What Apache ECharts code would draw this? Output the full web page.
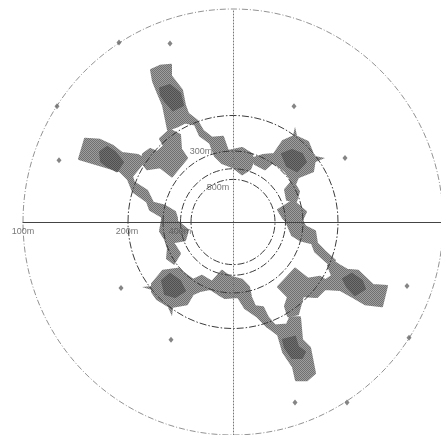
<!DOCTYPE html>
<html><head><meta charset="utf-8">
<style>html,body{margin:0;padding:0;background:#fff}#c{width:441px;height:435px;filter:blur(0.55px)}</style>
<script src="https://cdn.jsdelivr.net/npm/echarts@6/dist/echarts.min.js"></script>
</head><body><div id="c"></div>
<script>
// Radial scale is reciprocal: radius value = 21000 / wavelength in metres
const ringWavelengths = [100, 200, 300, 400, 500];
const labelUnder = [[-32, 69, '300m']];
const labelOver = [[-210, -9, '100m'], [-106, -9, '200m'], [-53, -9, '400m'], [-15, 34, '500m']];

const upperLeftLobe = [[-82,150],[-73,154],[-62,155],[-62,144],[-51,130],[-48,115],[-45,107],[-36,100],[-30,90],[-21,83],[-10,84],[-5,70],[9,73],[19,67],[20,59],[17,52],[9,47],[0,54],[-11,58],[-18,65],[-23,78],[-33,85],[-38,96],[-48,98],[-56,94],[-65,91],[-70,115],[-76,129],[-80,139]];
const upperLeftDiamond = [[-73,82],[-63,91],[-53,86],[-52,72],[-46,63],[-61,45],[-73,54],[-86,52],[-91,59],[-90,67],[-83,72],[-76,69],[-69,75]];
const leftLobe = [[-154,62],[-148,82],[-133,81],[-120,75],[-111,68],[-95,66],[-89,63],[-91,57],[-101,45],[-99,39],[-86,31],[-80,19],[-68,16],[-58,10],[-56,4],[-56,1],[-71,2],[-71,5],[-83,12],[-86,20],[-100,30],[-105,42],[-113,50],[-133,56]];
const axisLeftBlob = [[-71,2],[-73,-9],[-68,-17],[-65,-26],[-66,-36],[-59,-41],[-53,-31],[-60,-20],[-48,-18],[-45,-8],[-56,1]];
const lowerLeftBlob = [[-81,-61],[-70,-48],[-55,-46],[-40,-57],[-31,-53],[-21,-59],[-11,-48],[-3,-54],[9,-57],[16,-64],[18,-74],[22,-83],[30,-84],[35,-94],[42,-102],[34,-103],[24,-93],[12,-85],[5,-74],[-8,-75],[-15,-71],[-23,-66],[-33,-68],[-40,-71],[-46,-81],[-63,-84],[-76,-76],[-81,-69]];
const lowerRightLobe = [[42,-102],[54,-101],[57,-94],[67,-94],[69,-116],[77,-124],[82,-149],[74,-156],[63,-156],[60,-143],[50,-128],[45,-111],[34,-103]];
const lowerRightDiamond = [[45,-64],[62,-46],[75,-56],[87,-54],[95,-59],[82,-74],[70,-73],[65,-91],[55,-93],[52,-83],[55,-74]];
const rightLobe = [[99,-38],[107,-43],[114,-47],[125,-48],[140,-62],[154,-63],[149,-83],[132,-81],[120,-74],[107,-67],[92,-66],[84,-74],[79,-71],[90,-59],[99,-53],[95,-43]];
const axisRightStrand = [[45,12],[60,21],[73,10],[69,2],[72,-4],[82,-9],[84,-21],[92,-29],[102,-38],[97,-42],[92,-38],[82,-29],[79,-21],[67,-18],[59,-13],[56,-6],[53,1],[50,4]];
const upperRightBlob = [[20,63],[30,66],[41,67],[50,80],[62,85],[75,79],[82,62],[80,50],[65,44],[62,37],[66,30],[63,20],[54,22],[52,32],[59,40],[52,50],[40,59],[32,52],[22,57]];
const spikeTop = [[60,85],[62,94],[64,85]];
const spikeRight = [[82,65],[92,63],[82,59]];
const spikeLeft = [[-81,-63],[-91,-64],[-81,-67]];
const spikeBottom = [[-65,-84],[-61,-93],[-60,-84]];

const coreUpperLeft = [[-73,132],[-63,135],[-53,127],[-50,115],[-60,110],[-68,119],[-72,125]];
const coreLeft = [[-133,69],[-126,74],[-118,69],[-110,59],[-116,50],[-126,55],[-132,60]];
const coreUpperRight = [[49,67],[59,71],[69,67],[73,59],[64,50],[54,55]];
const coreLowerLeft = [[-71,-58],[-63,-51],[-53,-58],[-48,-68],[-58,-74],[-68,-71]];
const coreRight = [[110,-56],[119,-51],[129,-58],[132,-66],[122,-72],[114,-64]];
const coreLowerRight = [[50,-116],[62,-113],[65,-123],[72,-128],[69,-134],[59,-134],[52,-124]];

const outerContours = [upperLeftLobe, upperLeftDiamond, leftLobe, axisLeftBlob, lowerLeftBlob, lowerRightLobe, lowerRightDiamond, rightLobe, axisRightStrand, upperRightBlob];
const spikes = [spikeTop, spikeRight, spikeLeft, spikeBottom];
const innerContours = [coreUpperLeft, coreLeft, coreUpperRight, coreLowerLeft, coreRight, coreLowerRight];
const spots = [[-63,176],[-114,177],[-176,114],[-174,61],[61,114],[112,63],[-112,-65],[-62,-116],[174,-63],[176,-114],[62,-178],[114,-178]];

function stipple(a, b) {
  const c = document.createElement('canvas'); c.width = c.height = 2;
  const g = c.getContext('2d');
  g.fillStyle = a; g.fillRect(0, 0, 2, 2);
  g.fillStyle = b; g.fillRect(0, 0, 1, 1); g.fillRect(1, 1, 1, 1);
  return { image: c, repeat: 'repeat' };
}
function contourSeries(list, fill, z, grow) {
  return {
    type: 'custom', coordinateSystem: 'cartesian2d', z, silent: true, clip: false,
    data: list.map((_, i) => [i]),
    renderItem: (params, api) => ({
      type: 'polygon',
      shape: { points: list[api.value(0)].map(p => api.coord(p)) },
      style: { fill, stroke: fill, lineWidth: grow, lineJoin: 'round' }
    })
  };
}
function labelSeries(list, z) {
  return {
    type: 'scatter', z, symbolSize: 0, silent: true, data: list,
    label: { show: true, position: 'inside', formatter: p => p.value[2], fontFamily: 'Liberation Sans', fontSize: 9, color: '#555' }
  };
}
const ringRadii = ringWavelengths.map(w => 21000 / w);
const grey = stipple('#9e9e9e', '#707070');
const chart = echarts.init(document.getElementById('c'), null, { renderer: 'canvas' });
chart.setOption({
  animation: false,
  backgroundColor: '#fff',
  grid: { left: 23, right: 0, top: 9, bottom: 0 },
  xAxis: { type: 'value', min: -210, max: 208, splitLine: { show: false }, axisLabel: { show: false }, axisTick: { show: false },
    axisLine: { show: true, onZero: true, lineStyle: { color: '#444', width: 1 } }, z: 8 },
  yAxis: { type: 'value', min: -210, max: 210, splitLine: { show: false }, axisLabel: { show: false }, axisTick: { show: false },
    axisLine: { show: true, onZero: true, lineStyle: { color: '#777', width: 1, type: [1, 2] } }, z: 8 },
  series: [
    labelSeries(labelUnder, 1),
    contourSeries(outerContours, grey, 2, 2),
    contourSeries(spikes, grey, 2, 0),
    contourSeries(innerContours, stipple('#707070', '#505050'), 3, 2),
    {
      type: 'custom', coordinateSystem: 'cartesian2d', z: 4, silent: true, clip: false,
      data: ringRadii.map((r, i) => [r, i]),
      renderItem: (params, api) => {
        const c = api.coord([0, 0]), s = api.size([api.value(0), api.value(0)]), outer = api.value(1) === 0;
        return { type: 'ellipse', shape: { cx: c[0], cy: c[1], rx: s[0], ry: s[1] },
          style: { fill: null, stroke: outer ? '#777' : '#3c3c3c', lineWidth: outer ? 0.8 : 1, lineDash: outer ? [6, 2, 1, 2] : [7, 2, 1.5, 2] } };
      }
    },
    { type: 'scatter', z: 5, silent: true, symbol: 'diamond', symbolSize: [5, 6], itemStyle: { color: '#666' }, data: spots },
    labelSeries(labelOver, 6)
  ]
});
</script></body></html>
